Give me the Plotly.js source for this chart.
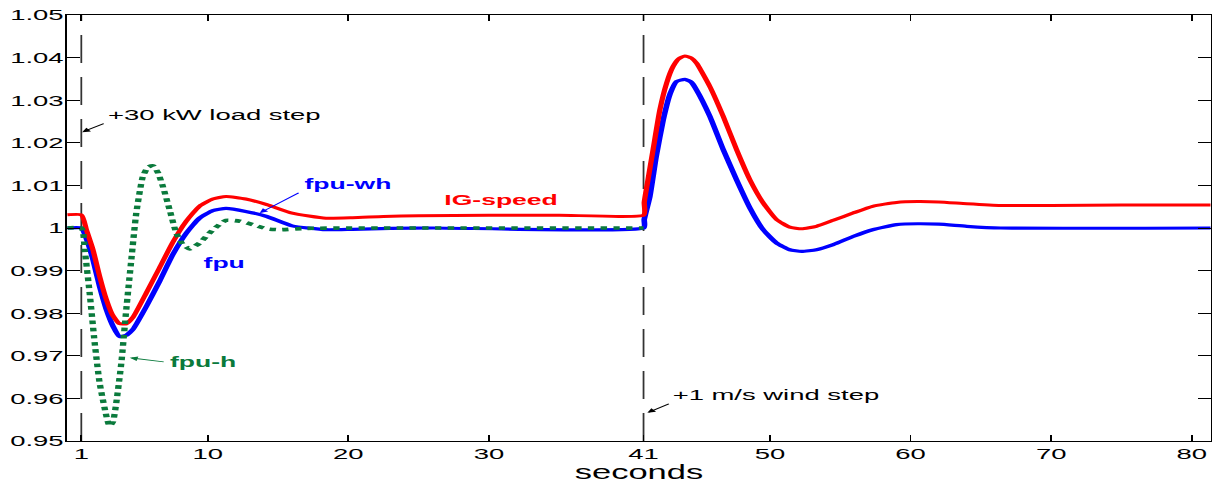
<!DOCTYPE html>
<html>
<head>
<meta charset="utf-8">
<script src="https://cdn.plot.ly/plotly-3.0.1.min.js"></script>
<style>
  html, body { margin: 0; padding: 0; background: #ffffff; overflow: hidden; }
  #chart { width: 688px; height: 483px; transform: scaleX(1.77); transform-origin: 0 0; }
</style>
</head>
<body>
<div id="chart"></div>
<script>
// ---- data ----
const igX = [0, 1.0, 1.36, 1.83, 2.3, 2.78, 3.2, 3.7, 4.2, 4.67, 5.63, 6.57, 7.5, 8.47, 9.4, 10.35, 11.3, 12.7, 14.2, 16.0, 18.4, 20.3, 22.5, 25, 30, 35, 41, 41.05, 41.3, 41.68, 42.16, 42.64, 43.1, 43.5, 43.94, 44.4, 44.77, 45.72, 46.67, 47.62, 48.57, 49.51, 50.46, 51.4, 52.25, 53.3, 54.5, 55.9, 57.3, 59.0, 60.5, 62, 64, 66.4, 70, 75, 81.35];
const igSpeed = [1.0031, 1.0031, 0.9996, 0.9949, 0.9887, 0.9832, 0.9797, 0.9776, 0.9775, 0.9790, 0.9848, 0.9907, 0.9966, 1.0016, 1.0051, 1.0068, 1.0074, 1.0068, 1.0055, 1.0035, 1.0023, 1.0024, 1.0027, 1.0029, 1.0030, 1.0030, 1.0030, 1.0060, 1.0110, 1.0184, 1.0277, 1.0340, 1.0379, 1.0397, 1.0404, 1.0399, 1.0387, 1.0332, 1.0262, 1.0184, 1.0113, 1.0059, 1.0020, 1.0002, 0.9998, 1.0004, 1.0018, 1.0035, 1.0051, 1.0060, 1.0062, 1.0061, 1.0057, 1.0053, 1.0053, 1.0054, 1.0054];

const whX = [0, 1.0, 1.36, 1.83, 2.3, 2.78, 3.25, 3.73, 4.2, 4.67, 5.63, 6.57, 7.5, 8.47, 9.4, 10.35, 11.3, 12.7, 14.2, 16.0, 18.4, 20.3, 23, 26, 41, 41.05, 41.45, 41.9, 42.4, 42.9, 43.35, 43.94, 44.4, 44.77, 45.72, 46.67, 47.62, 48.57, 49.51, 50.46, 51.4, 52.25, 53.3, 54.5, 55.9, 57.3, 59.0, 60.5, 62, 64, 66.4, 81.35];
const fpuWh = [1.0, 1.0, 0.9975, 0.9926, 0.9863, 0.9809, 0.9770, 0.9745, 0.9748, 0.9762, 0.9816, 0.9875, 0.9937, 0.9988, 1.0023, 1.0041, 1.0046, 1.0039, 1.0027, 1.0005, 0.9996, 0.9997, 0.9999, 1.0, 1.0, 1.0020, 1.0074, 1.0168, 1.0254, 1.0316, 1.0344, 1.0349, 1.0342, 1.0324, 1.0262, 1.0184, 1.0113, 1.0047, 0.9996, 0.9965, 0.9949, 0.9945, 0.9949, 0.9961, 0.9980, 0.9996, 1.0008, 1.0010, 1.0009, 1.0004, 1.0000, 1.0000];

const hX = [0, 1.0, 1.24, 1.59, 1.95, 2.3, 2.78, 3.01, 3.25, 3.49, 3.85, 4.2, 4.56, 4.91, 5.38, 5.75, 6.1, 6.45, 6.8, 7.28, 7.76, 8.23, 8.71, 9.42, 10.37, 11.3, 12.27, 13.2, 14.2, 15.1, 17, 20, 41];
const fpuH = [1.0, 1.0, 0.9949, 0.9848, 0.9731, 0.9637, 0.9559, 0.9535, 0.9545, 0.9590, 0.9684, 0.9809, 0.9926, 1.0035, 1.0121, 1.0143, 1.0146, 1.0130, 1.0098, 1.0043, 0.9988, 0.9961, 0.9951, 0.9965, 0.9996, 1.0018, 1.0016, 1.0008, 0.9998, 0.9996, 0.9999, 1.0, 1.0];

const xTickVals = [1, 10, 20, 30, 41, 50, 60, 70, 80];
const xTickText = ['1', '10', '20', '30', '41', '50', '60', '70', '80'];
const yTickVals = [0.95, 0.96, 0.97, 0.98, 0.99, 1.00, 1.01, 1.02, 1.03, 1.04, 1.05];
const yTickText = ['0.95', '0.96', '0.97', '0.98', '0.99', '1', '1.01', '1.02', '1.03', '1.04', '1.05'];
const eventTimes = [1, 41];

// ---- styling ----
const FONT = 'Liberation Sans, Arial, Helvetica, sans-serif';
const RED = '#ff0000', BLUE = '#0000ff', GREEN = '#0a7a3c';

const traces = [
  { x: whX, y: fpuWh, mode: 'lines', name: 'fpu-wh', line: { color: BLUE, width: 3.2, shape: 'spline', smoothing: 0.5 } },
  { x: igX, y: igSpeed, mode: 'lines', name: 'IG-speed', line: { color: RED, width: 3, shape: 'spline', smoothing: 0.5 } },
  { x: hX, y: fpuH, mode: 'lines', name: 'fpu-h', line: { color: GREEN, width: 3.6, dash: 'dot', shape: 'spline', smoothing: 0.5 } }
];

const shapes = eventTimes.map(t => ({
  type: 'line', xref: 'x', yref: 'paper', x0: t, x1: t, y0: 0, y1: 1,
  line: { color: '#333333', width: 1, dash: '28px,14px' }, layer: 'below'
}));

function txt(text, x, y, color, bold, xanchor) {
  return { text: bold ? '<b>' + text + '</b>' : text, x: x, y: y, xref: 'x', yref: 'y', showarrow: false,
    xanchor: xanchor || 'center', yanchor: 'middle', font: { family: FONT, size: bold ? 15 : 15.5, color: color } };
}
function arrow(x, y, ax, ay, color, head) {
  return { text: '', x: x, y: y, ax: ax, ay: ay, xref: 'x', yref: 'y', axref: 'x', ayref: 'y',
    showarrow: true, arrowhead: head, arrowsize: 1, arrowwidth: 0.9, arrowcolor: color, standoff: 0, startstandoff: 0 };
}

const annotations = [
  txt('+30 kW load step', 2.6, 1.0267, '#000000', false, 'left'),
  arrow(1.06, 1.0225, 2.78, 1.02475, '#000000', 2),
  txt('+1 m/s wind step', 42.8, 0.9609, '#000000', false, 'left'),
  arrow(41.27, 0.95664, 42.99, 0.9590, '#000000', 2),
  txt('IG-speed', 30.9, 1.0066, RED, true),
  txt('fpu-wh', 19.9, 1.0104, BLUE, true),
  arrow(13.69, 1.00352, 16.65, 1.00858, BLUE, 2),
  txt('fpu', 11.2, 0.9918, BLUE, true),
  txt('fpu-h', 9.6, 0.9686, GREEN, true),
  arrow(4.44, 0.96953, 7.05, 0.9685, GREEN, 2)
];

const axisCommon = {
  showline: true, linecolor: '#000000', linewidth: 1, mirror: 'ticks',
  ticks: 'inside', tickcolor: '#000000', tickwidth: 1,
  showgrid: false, zeroline: false, tickmode: 'array',
  tickfont: { family: FONT, size: 15.5, color: '#000000' }
};

const layout = {
  width: 688, height: 483,
  margin: { l: 38, r: 4, t: 15, b: 42 },
  paper_bgcolor: '#ffffff', plot_bgcolor: '#ffffff',
  showlegend: false,
  font: { family: FONT, color: '#000000' },
  xaxis: Object.assign({}, axisCommon, {
    range: [0, 81.35], tickvals: xTickVals, ticktext: xTickText, ticklen: 6, ticklabelstandoff: -2,
    title: { text: 'seconds', font: { family: FONT, size: 19.5, color: '#000000' }, standoff: 4 }
  }),
  yaxis: Object.assign({}, axisCommon, {
    range: [0.95, 1.05], tickvals: yTickVals, ticktext: yTickText, ticklen: 7, ticklabelstandoff: -2
  }),
  shapes: shapes,
  annotations: annotations
};

Plotly.newPlot('chart', traces, layout, { displayModeBar: false, staticPlot: true, responsive: false });
</script>
</body>
</html>
